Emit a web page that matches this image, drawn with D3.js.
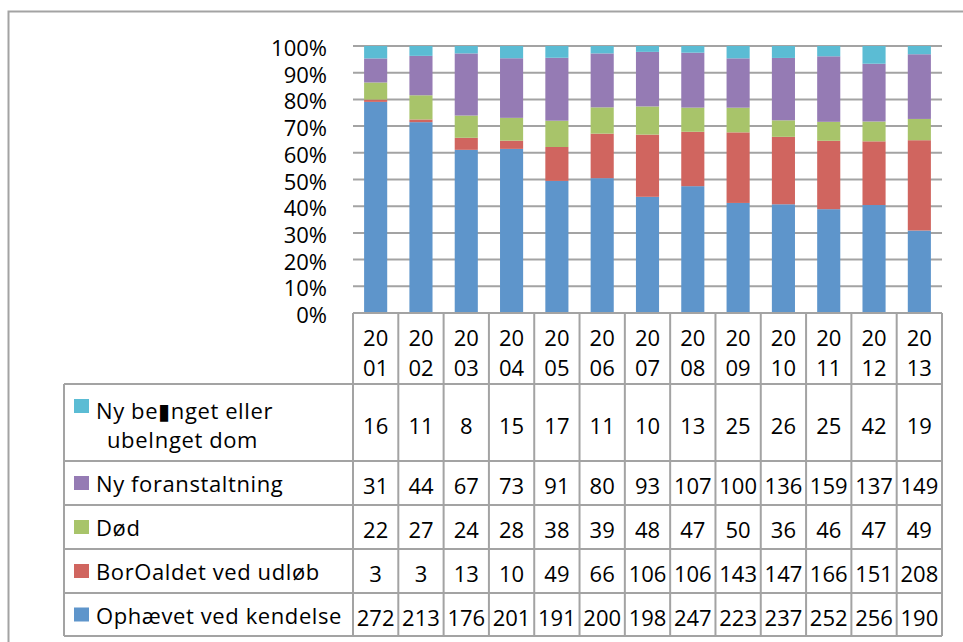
<!DOCTYPE html>
<html>
<head>
<meta charset="utf-8">
<script src="https://cdn.jsdelivr.net/npm/d3@7"></script>
<style>
  body { margin: 0; background: #fff; }
  text { font-family: "Open Sans", "DejaVu Sans", sans-serif; fill: #000; }
</style>
</head>
<body>
<div id="chart"></div>
<script>
const years = ["2001", "2002", "2003", "2004", "2005", "2006", "2007",
  "2008", "2009", "2010", "2011", "2012", "2013"];
const nyBetinget = [16, 11, 8, 15, 17, 11, 10, 13, 25, 26, 25, 42, 19];
const nyForanstaltning = [31, 44, 67, 73, 91, 80, 93, 107, 100, 136, 159, 137, 149];
const doed = [22, 27, 24, 28, 38, 39, 48, 47, 50, 36, 46, 47, 49];
const bortfaldet = [3, 3, 13, 10, 49, 66, 106, 106, 143, 147, 166, 151, 208];
const ophaevet = [272, 213, 176, 201, 191, 200, 198, 247, 223, 237, 252, 256, 190];
const yTicks = [0, 0.1, 0.2, 0.3, 0.4, 0.5, 0.6, 0.7, 0.8, 0.9, 1];

// table rows top to bottom (same as legend)
const rows = [
  { key: "nyBetinget", label: ["Ny be\u25AEnget eller", "ubeInget dom"], values: nyBetinget, colour: "#5bbcd4" },
  { key: "nyForanstaltning", label: ["Ny foranstaltning"], values: nyForanstaltning, colour: "#957bb4" },
  { key: "doed", label: ["Død"], values: doed, colour: "#a8c46a" },
  { key: "bortfaldet", label: ["BorOaldet ved udløb"], values: bortfaldet, colour: "#d0655f" },
  { key: "ophaevet", label: ["Ophævet ved kendelse"], values: ophaevet, colour: "#5e95cb" }
];

const width = 963, height = 642;
const plot = { left: 353, right: 942, top: 46, bottom: 313 };
const rowEdges = [384, 461, 505, 549, 593, 636];
const legendLeft = 64;
const grey = "#a3a3a3";

const svg = d3.select("#chart").append("svg")
  .attr("width", width)
  .attr("height", height);

svg.append("rect")
  .attr("width", width).attr("height", height)
  .attr("fill", "#fff");

// outer chart border (runs off the right and bottom)
svg.append("rect")
  .attr("x", 8.5).attr("y", 11.5)
  .attr("width", 1000).attr("height", 700)
  .attr("fill", "none")
  .attr("stroke", grey)
  .attr("stroke-width", 2);

const col = d3.scaleBand().domain(years).range([plot.left, plot.right]);
const x = d3.scaleBand().domain(years).range([plot.left, plot.right])
  .paddingInner(0.49)
  .paddingOuter(0.245);
const y = d3.scaleLinear().domain([0, 1]).range([plot.bottom, plot.top]);

// gridlines
svg.append("g")
  .selectAll("line")
  .data(yTicks.filter(d => d > 0))
  .enter().append("line")
    .attr("x1", plot.left).attr("x2", plot.right)
    .attr("y1", d => y(d)).attr("y2", d => y(d))
    .attr("stroke", grey)
    .attr("stroke-width", 2);

// y axis labels
svg.append("g")
  .selectAll("text")
  .data(yTicks)
  .enter().append("text")
    .attr("x", 327)
    .attr("y", d => y(d) + 10)
    .attr("text-anchor", "end")
    .style("font-size", "22px")
    .text(d3.format(".0%"));

// stacked bars, bottom series first
const table = years.map((yr, i) => {
  const o = { year: yr };
  rows.forEach(r => { o[r.key] = r.values[i]; });
  return o;
});
const keys = rows.map(r => r.key).reverse();
const colourOf = {};
rows.forEach(r => { colourOf[r.key] = r.colour; });

const stacked = d3.stack().keys(keys).offset(d3.stackOffsetExpand)(table);

svg.append("g")
  .selectAll("g")
  .data(stacked)
  .enter().append("g")
    .attr("fill", d => colourOf[d.key])
  .selectAll("rect")
  .data(d => d)
  .enter().append("rect")
    .attr("x", d => x(d.data.year))
    .attr("width", x.bandwidth())
    .attr("y", d => y(d[1]))
    .attr("height", d => y(d[0]) - y(d[1]));

// data table lines
const lines = svg.append("g")
  .attr("stroke", grey)
  .attr("stroke-width", 2);

// year header: top + column dividers
lines.append("line")
  .attr("x1", plot.left).attr("x2", plot.right)
  .attr("y1", plot.bottom).attr("y2", plot.bottom);
rowEdges.forEach(ry => {
  lines.append("line")
    .attr("x1", legendLeft).attr("x2", plot.right)
    .attr("y1", ry).attr("y2", ry);
});
lines.append("line")
  .attr("x1", legendLeft).attr("x2", legendLeft)
  .attr("y1", rowEdges[0]).attr("y2", rowEdges[rowEdges.length - 1]);
years.concat([null]).forEach((yr, i) => {
  const cx = plot.left + i * col.step();
  lines.append("line")
    .attr("x1", cx).attr("x2", cx)
    .attr("y1", plot.bottom).attr("y2", rowEdges[rowEdges.length - 1]);
});

// year labels, split into two lines
const yearText = svg.append("g")
  .selectAll("text")
  .data(years)
  .enter().append("text")
    .attr("text-anchor", "middle")
    .style("font-size", "22px");
yearText.append("tspan")
  .attr("x", d => col(d) + col.bandwidth() / 2)
  .attr("y", 346)
  .text(d => d.slice(0, 2));
yearText.append("tspan")
  .attr("x", d => col(d) + col.bandwidth() / 2)
  .attr("y", 376)
  .text(d => d.slice(2));

// legend cells + values
rows.forEach((r, ri) => {
  const top = rowEdges[ri], bottom = rowEdges[ri + 1];
  const mid = (top + bottom) / 2;
  const g = svg.append("g");

  if (r.label.length === 2) {
    g.append("rect")
      .attr("x", 74).attr("y", top + 15)
      .attr("width", 15).attr("height", 14)
      .attr("fill", r.colour);
    g.append("text")
      .attr("x", 96).attr("y", top + 35)
      .style("font-size", "22px")
      .style("letter-spacing", "0.6px")
      .text(r.label[0]);
    g.append("text")
      .attr("x", 107).attr("y", top + 64)
      .style("font-size", "22px")
      .style("letter-spacing", "0.6px")
      .text(r.label[1]);
  } else {
    g.append("rect")
      .attr("x", 74).attr("y", mid - 7)
      .attr("width", 15).attr("height", 14)
      .attr("fill", r.colour);
    g.append("text")
      .attr("x", 96).attr("y", mid + 9)
      .style("font-size", "22px")
      .style("letter-spacing", "0.6px")
      .text(r.label[0]);
  }

  g.selectAll("text.val")
    .data(r.values)
    .enter().append("text")
      .attr("class", "val")
      .attr("x", (d, i) => col(years[i]) + col.bandwidth() / 2)
      .attr("y", mid + 11)
      .attr("text-anchor", "middle")
      .style("font-size", "22px")
      .text(d => d);
});
</script>
</body>
</html>
